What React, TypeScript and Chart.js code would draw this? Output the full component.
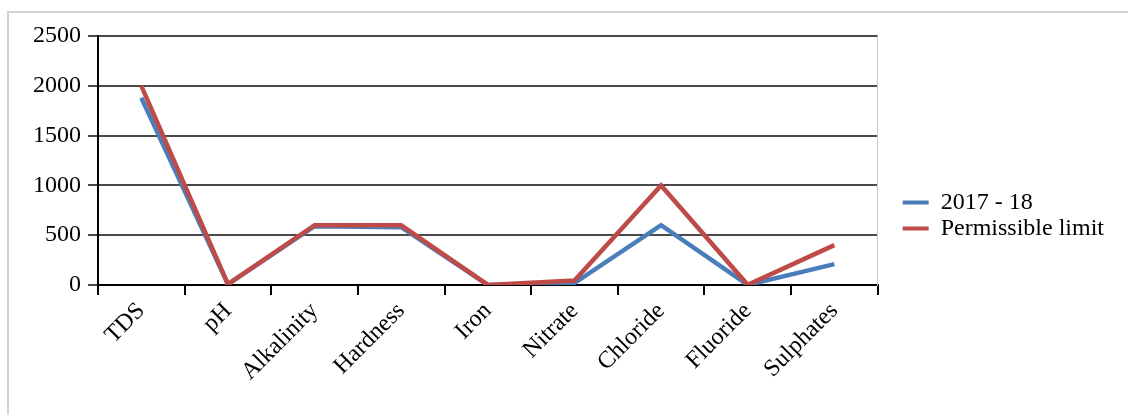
import React, { useEffect, useRef } from "react";
import { Chart, registerables } from "chart.js";

Chart.register(...registerables);

const categories = [
  "TDS",
  "pH",
  "Alkalinity",
  "Hardness",
  "Iron",
  "Nitrate",
  "Chloride",
  "Fluoride",
  "Sulphates",
];

const observed2017 = [1880, 7.5, 590, 580, 0.3, 20, 600, 1, 210];
const permissibleLimit = [2000, 8.5, 600, 600, 0.3, 45, 1000, 1.5, 400];

const yTicks = [0, 500, 1000, 1500, 2000, 2500];

const BLUE = "#4A7EBB";
const RED = "#BE4B48";
const FONT = '"Liberation Serif", "Times New Roman", serif';

export default function App() {
  const canvasRef = useRef<HTMLCanvasElement | null>(null);

  useEffect(() => {
    const canvas = canvasRef.current;
    if (!canvas) return;
    const chart = new Chart(canvas, {
      type: "line",
      data: {
        labels: categories,
        datasets: [
          {
            label: "2017 - 18",
            data: observed2017,
            borderColor: BLUE,
            backgroundColor: BLUE,
            borderWidth: 4.5,
            pointRadius: 0,
            tension: 0,
            order: 1,
          },
          {
            label: "Permissible limit",
            data: permissibleLimit,
            borderColor: RED,
            backgroundColor: RED,
            borderWidth: 4.5,
            pointRadius: 0,
            tension: 0,
            order: 0,
          },
        ],
      },
      options: {
        responsive: false,
        animation: false,
        layout: { padding: { top: 36, left: 0, right: 14, bottom: 20 } },
        plugins: {
          tooltip: { enabled: false },
          legend: {
            position: "right",
            maxWidth: 400,
            labels: {
              color: "#000",
              font: { family: FONT, size: 24 },
              boxWidth: 26,
              boxHeight: 4,
              padding: 2,
              sort: (a, b) => (a.datasetIndex ?? 0) - (b.datasetIndex ?? 0),
              generateLabels: (c) =>
                Chart.defaults.plugins.legend.labels
                  .generateLabels(c)
                  .map((l) => ({ ...l, lineWidth: 0, fillStyle: l.strokeStyle })),
            },
          },
        },
        scales: {
          x: {
            offset: true,
            grid: {
              offset: true,
              drawOnChartArea: false,
              drawTicks: true,
              tickLength: 10,
              color: "#000",
              lineWidth: 2,
            },
            border: { color: "#000", width: 2 },
            ticks: {
              color: "#000",
              font: { family: FONT, size: 24 },
              minRotation: 45,
              maxRotation: 45,
              autoSkip: false,
              padding: 2,
            },
            afterFit: (s) => {
              s.height = 110;
            },
          },
          y: {
            min: 0,
            max: 2500,
            afterBuildTicks: (s) => {
              s.ticks = yTicks.map((v) => ({ value: v }));
            },
            grid: {
              color: "#4a4a4a",
              lineWidth: 2,
              tickLength: 10,
            },
            border: { color: "#000", width: 2 },
            ticks: {
              color: "#000",
              font: { family: FONT, size: 24 },
              padding: 7,
              callback: (v) => String(v),
            },
            afterFit: (s) => {
              s.width = 98;
            },
          },
          frame: {
            type: "linear",
            position: "right",
            display: true,
            grid: { display: false, drawTicks: false },
            border: { display: true, color: "#c8c8c8", width: 1 },
            ticks: { display: false },
            afterFit: (s) => {
              s.width = 23;
            },
          },
        },
      },
    });
    return () => chart.destroy();
  }, []);

  return (
    <div
      style={{
        position: "fixed",
        left: 0,
        top: 0,
        width: 1128,
        height: 415,
        background: "#fff",
        overflow: "hidden",
      }}
    >
      <div
        style={{
          position: "absolute",
          left: 7,
          top: 11,
          width: 1140,
          height: 420,
          border: "2px solid #d2d2d2",
          boxSizing: "border-box",
        }}
      />
      <canvas
        ref={canvasRef}
        width={1128}
        height={415}
        style={{ position: "absolute", left: 0, top: 0 }}
      />
    </div>
  );
}
